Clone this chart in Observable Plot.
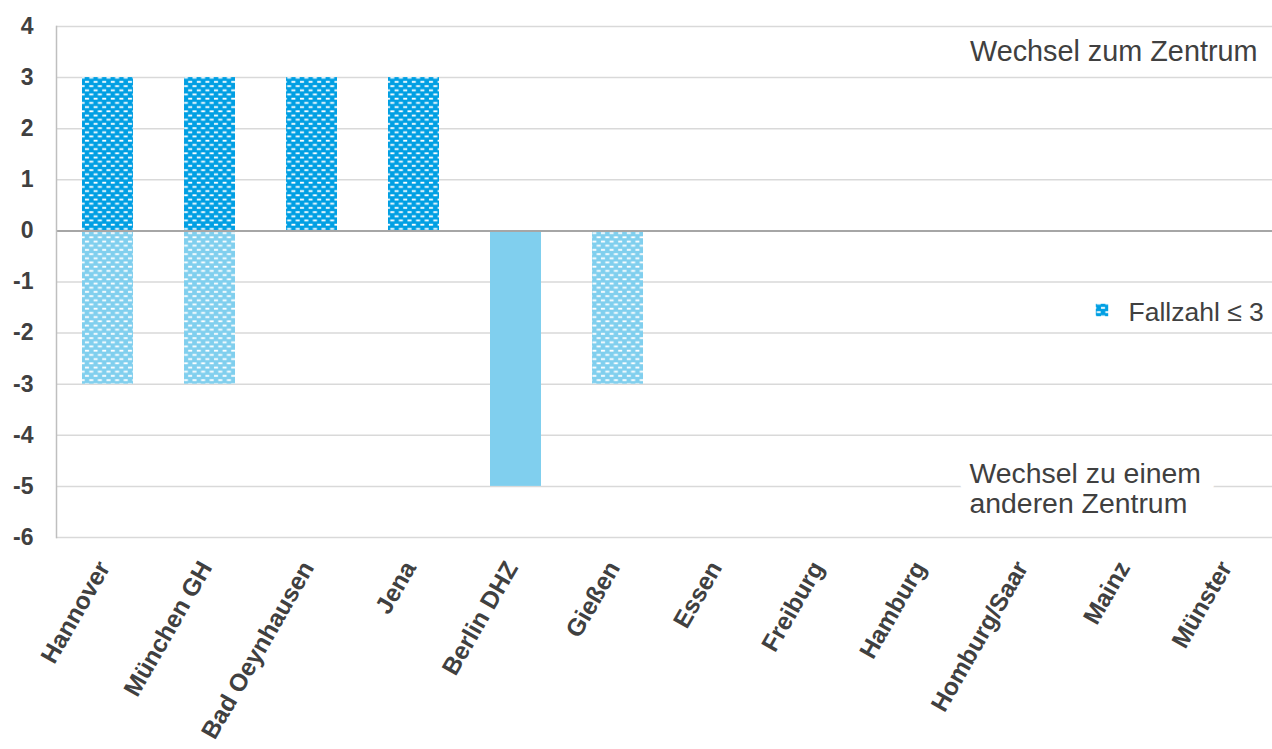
<!DOCTYPE html>
<html>
<head>
<meta charset="utf-8">
<script src="https://cdn.jsdelivr.net/npm/d3@7"></script>
<script src="https://cdn.jsdelivr.net/npm/@observablehq/plot@0.6"></script>
<style>
  html, body { margin: 0; padding: 0; background: #fff; }
  body { width: 1272px; height: 749px; overflow: hidden; font-family: "Liberation Sans", Arial, sans-serif; }
  #defs { position: absolute; width: 0; height: 0; }
</style>
</head>
<body>
<svg id="defs" aria-hidden="true">
  <defs>
    <pattern id="patDark" patternUnits="userSpaceOnUse" width="8.6" height="8.4">
      <rect width="8.6" height="8.4" fill="#009fe3"/>
      <rect x="3.3" y="1.2" width="4" height="1.8" fill="#ffffff"/>
      <rect x="0" y="5.4" width="3" height="1.8" fill="#ffffff"/>
      <rect x="7.6" y="5.4" width="1" height="1.8" fill="#ffffff"/>
    </pattern>
    <pattern id="patLight" patternUnits="userSpaceOnUse" width="8.6" height="8.4">
      <rect width="8.6" height="8.4" fill="#80cfee"/>
      <rect x="3.3" y="1.2" width="4" height="1.8" fill="#ffffff"/>
      <rect x="0" y="5.4" width="3" height="1.8" fill="#ffffff"/>
      <rect x="7.6" y="5.4" width="1" height="1.8" fill="#ffffff"/>
    </pattern>
  </defs>
</svg>
<div id="chart"></div>
<script>
// ---- data ----
const categories = ["Hannover", "München GH", "Bad Oeynhausen", "Jena", "Berlin DHZ", "Gießen",
  "Essen", "Freiburg", "Hamburg", "Homburg/Saar", "Mainz", "Münster"];
// Wechsel zum Zentrum (positive)
const zumZentrum = [3, 3, 3, 3, 0, 0, 0, 0, 0, 0, 0, 0];
// Wechsel zu einem anderen Zentrum (negative)
const anderesZentrum = [-3, -3, 0, 0, -5, -3, 0, 0, 0, 0, 0, 0];
// Fallzahl <= 3 flags
const kleinZum = [true, true, true, true, false, false, false, false, false, false, false, false];
const kleinAnderes = [true, true, false, false, false, true, false, false, false, false, false, false];
const yTicks = [4, 3, 2, 1, 0, -1, -2, -3, -4, -5, -6];
const labelZum = "Wechsel zum Zentrum";
const labelAnderes = "Wechsel zu einem\nanderen Zentrum";
const legendLabel = "Fallzahl ≤ 3";

const rowsZum = categories.map((c, i) => ({cat: c, v: zumZentrum[i], klein: kleinZum[i]})).filter(d => d.v !== 0);
const rowsAnd = categories.map((c, i) => ({cat: c, v: anderesZentrum[i], klein: kleinAnderes[i]})).filter(d => d.v !== 0);

const font = "Liberation Sans, Arial, sans-serif";
const textColor = "#404040";
const anderesOpts = {frameAnchor: "bottom-right", text: d => d, textAnchor: "start", lineAnchor: "middle",
  dx: -303, dy: -49, fontSize: 28.4, lineHeight: 1.06};

const chart = Plot.plot({
  width: 1272,
  height: 749,
  marginTop: 26,
  marginBottom: 212,
  marginLeft: 56,
  marginRight: 0,
  style: {fontFamily: font, background: "#fff", overflow: "visible"},
  x: {domain: categories, range: [54.5, 1281.5], paddingInner: 0.5, paddingOuter: 0.25, label: null, axis: null},
  y: {domain: [-6, 4], label: null},
  marks: [
    Plot.ruleY(yTicks.filter(t => t !== 0), {stroke: "#d9d9d9", strokeWidth: 1.5}),
    Plot.barY(rowsZum, {x: "cat", y: "v", fill: d => d.klein ? "url(#patDark)" : "#009fe3"}),
    Plot.barY(rowsAnd.filter(d => d.klein), {x: "cat", y: "v", fill: "url(#patLight)"}),
    Plot.barY(rowsAnd.filter(d => !d.klein), {x: "cat", y: "v", fill: "#80cfee"}),
    Plot.ruleY([0], {stroke: "#a6a6a6", strokeWidth: 2}),
    Plot.frame({anchor: "left", stroke: "#bfbfbf", strokeWidth: 1.5}),
    Plot.axisY({ticks: yTicks, tickSize: 0, tickPadding: 23, tickFormat: d => String(d),
      fontSize: 23, fontWeight: "bold", fill: textColor, label: null}),
    Plot.text(categories, {x: d => d, frameAnchor: "bottom", text: d => d, rotate: -60,
      textAnchor: "end", lineAnchor: "middle", dx: -4, dy: 26, fontSize: 24.5, fontWeight: "bold", fill: textColor}),
    Plot.text([labelZum], {frameAnchor: "top-right", text: d => d, textAnchor: "end", lineAnchor: "middle",
      dx: -15, dy: 25, fontSize: 28.8, fill: textColor}),
    Plot.text([labelAnderes], {...anderesOpts, fill: "white", stroke: "white", strokeWidth: 30}),
    Plot.text([labelAnderes], {...anderesOpts, fill: textColor}),
    Plot.dot([legendLabel], {frameAnchor: "right", symbol: "square", r: 7, dx: -170.5, dy: 28,
      fill: "url(#patDark)", stroke: "none"}),
    Plot.text([legendLabel], {frameAnchor: "right", text: d => d, textAnchor: "start", lineAnchor: "middle",
      dx: -144, dy: 30.5, fontSize: 26.5, fill: textColor})
  ]
});
document.getElementById("chart").appendChild(chart);
</script>
</body>
</html>
